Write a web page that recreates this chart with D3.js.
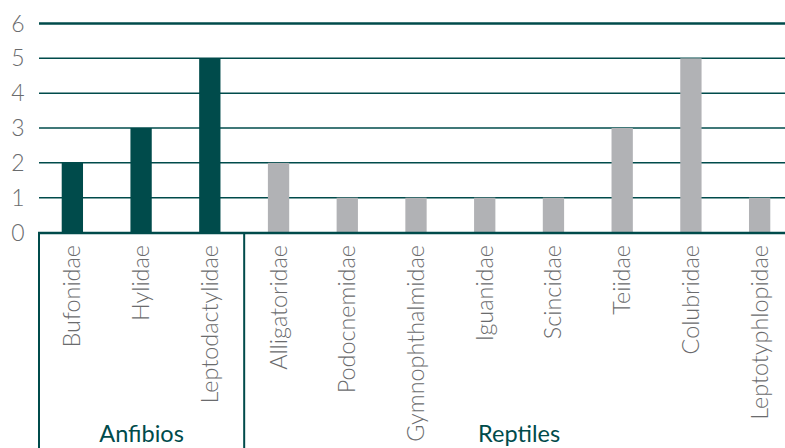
<!DOCTYPE html>
<html><head><meta charset="utf-8">
<script src="https://cdn.jsdelivr.net/npm/d3@7"></script>
<style>body{margin:0;background:#fff;}svg{display:block;}</style>
</head><body>
<svg id="c" width="785" height="448"></svg>
<script>
const categories = ["Bufonidae","Hylidae","Leptodactylidae","Alligatoridae","Podocnemidae","Gymnophthalmidae","Iguanidae","Scincidae","Teiidae","Colubridae","Leptotyphlopidae"];
const values = [2,3,5,2,1,1,1,1,3,5,1];
const groups = ["Anfibios","Anfibios","Anfibios","Reptiles","Reptiles","Reptiles","Reptiles","Reptiles","Reptiles","Reptiles","Reptiles"];
const groupNames = ["Anfibios","Reptiles"];
const yTicks = [0,1,2,3,4,5,6];

const teal = "#004b4b", gray = "#b1b2b5", txt = "#6a6b6d";
const svg = d3.select("#c");
const x = d3.scaleBand().domain(categories).range([38, 794]).paddingInner(0.69).paddingOuter(0.345);
const y = d3.scaleLinear().domain([0,6]).range([232.5, 23.5]);

// grid
svg.append("g").selectAll("line").data(yTicks.filter(d=>d>0)).join("line")
  .attr("x1", 39).attr("x2", 785).attr("y1", d=>y(d)).attr("y2", d=>y(d))
  .attr("stroke", teal).attr("stroke-width", d=>d===6?2.5:1.5);

// y labels
svg.append("g").selectAll("text").data(yTicks).join("text")
  .attr("x", 18).attr("y", d=>y(d)+8).attr("text-anchor","middle")
  .attr("font-family","Lato").attr("font-weight",300).attr("font-size",23).attr("fill",txt)
  .text(d=>d);

// bars
svg.append("g").selectAll("rect").data(categories).join("rect")
  .attr("x", d=>x(d)).attr("width", x.bandwidth())
  .attr("y", (d,i)=>y(values[i])).attr("height", (d,i)=>y(0)-y(values[i]))
  .attr("fill", (d,i)=>groups[i]==="Anfibios"?teal:gray);

// baseline
svg.append("line").attr("x1",38).attr("x2",785).attr("y1",y(0)+0.5).attr("y2",y(0)+0.5)
  .attr("stroke",teal).attr("stroke-width",2.5);

// group separators
const sepX = [39, (x("Leptodactylidae")+x.bandwidth()+x("Alligatoridae"))/2];
svg.append("g").selectAll("line").data(sepX).join("line")
  .attr("x1",d=>d).attr("x2",d=>d).attr("y1",y(0)).attr("y2",448)
  .attr("stroke",teal).attr("stroke-width",2);

// category labels
svg.append("g").selectAll("text").data(categories).join("text")
  .attr("transform", d=>`translate(${x(d)+x.bandwidth()/2+8},245) rotate(-90)`)
  .attr("text-anchor","end")
  .attr("font-family","Lato").attr("font-weight",300).attr("font-size",23.4).attr("fill",txt)
  .text(d=>d);

// group labels
const gx = [(sepX[0]+sepX[1])/2, (sepX[1]+794)/2];
svg.append("g").selectAll("text").data(groupNames).join("text")
  .attr("x",(d,i)=>gx[i]).attr("y",442).attr("text-anchor","middle")
  .attr("font-family","Lato").attr("font-size",23.5).attr("fill",teal)
  .text(d=>d);
</script>
</body></html>
